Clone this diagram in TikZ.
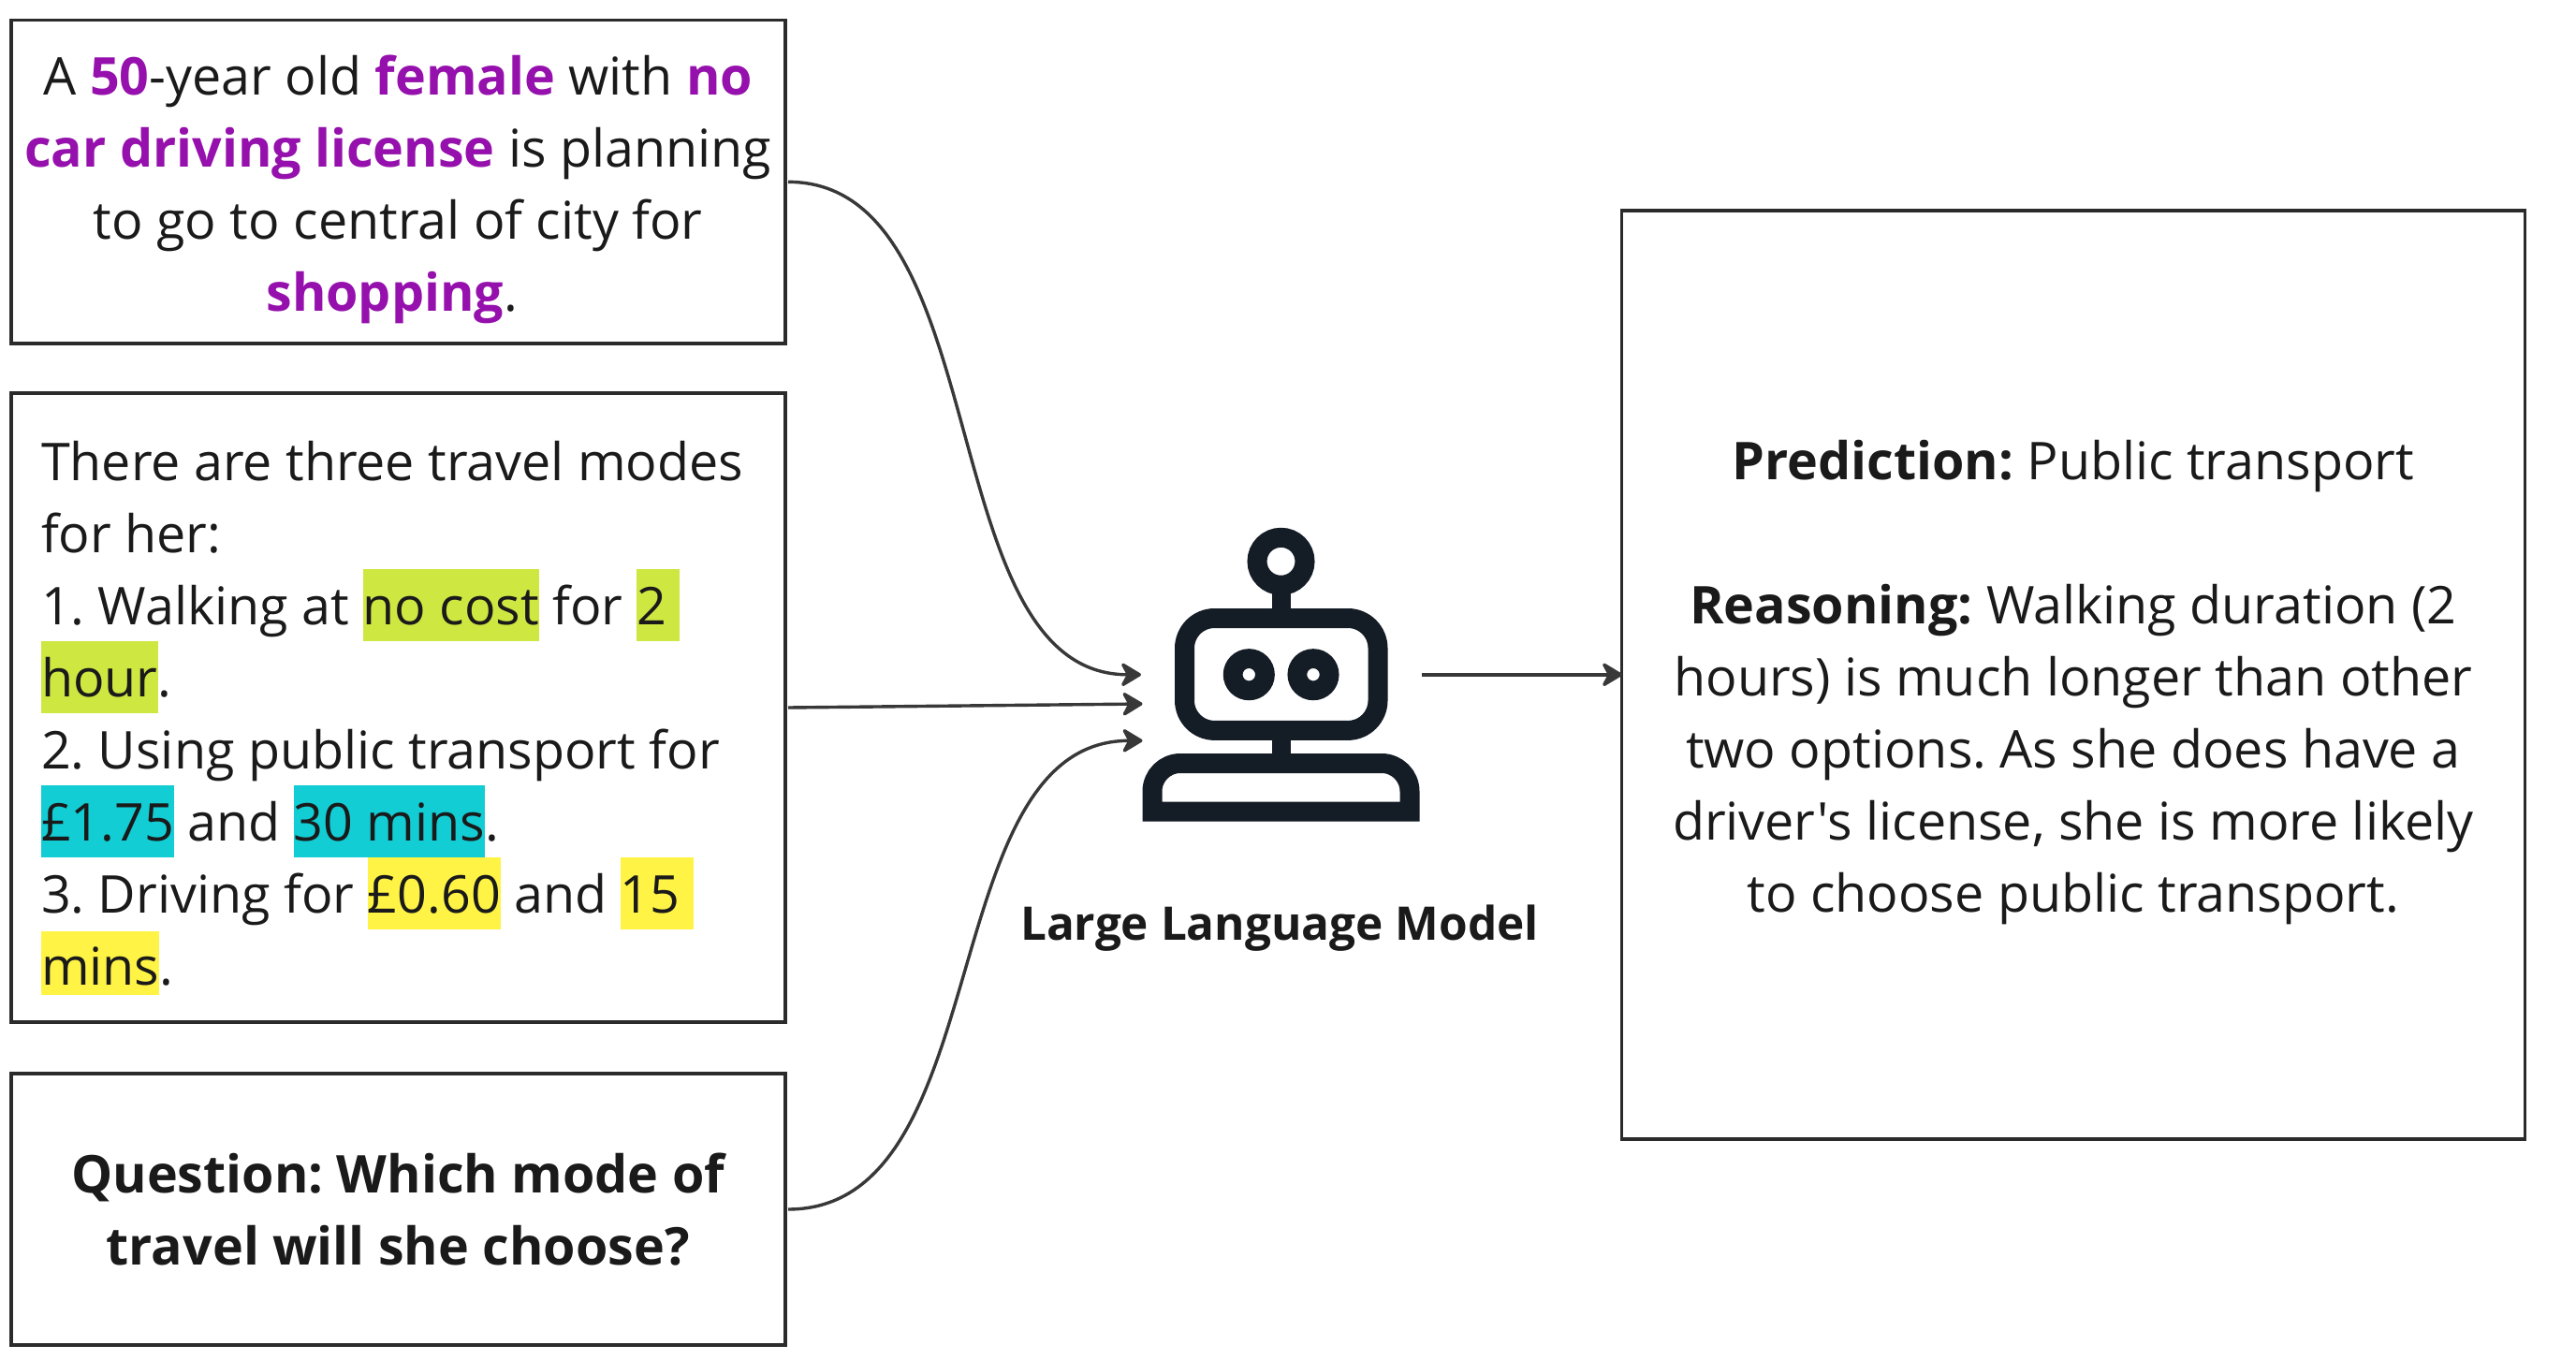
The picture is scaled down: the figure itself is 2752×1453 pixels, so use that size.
\documentclass[tikz,border=0pt]{standalone}
\usepackage{fontspec}
\setmainfont{Open Sans}[Ligatures=TeXOff]
\usetikzlibrary{arrows.meta}
\AtBeginDocument{\frenchspacing}
\definecolor{ink}{HTML}{1A1A1A}
\definecolor{edge}{HTML}{2B2B2B}
\definecolor{wire}{HTML}{383838}
\definecolor{bot}{HTML}{141C26}
\definecolor{plum}{HTML}{9510AC}
\definecolor{lime}{HTML}{CEE741}
\definecolor{teal}{HTML}{12CDD4}
\definecolor{sun}{HTML}{FFF445}
\newcommand{\hlbox}[2]{{\setlength{\fboxsep}{0pt}\colorbox{#1}{\rule[-17.2pt]{0pt}{77pt}#2}}}
\newcommand{\hlshort}[2]{{\setlength{\fboxsep}{0pt}\colorbox{#1}{\rule[-10pt]{0pt}{68pt}#2}}}
\newcommand{\pk}[1]{\textcolor{plum}{\textbf{#1}}}
\tikzset{
  x=1pt,y=-1pt,
  panel/.style={draw=edge,line width=3.4pt,fill=white,inner sep=0pt,outer sep=3pt},
  words/.style={text=ink,inner sep=0pt,font=\fontsize{55.6pt}{77pt}\selectfont},
  link/.style={draw=wire,line width=3.4pt,-{Stealth[length=25pt,width=30pt,inset=8pt,round]}},
  botline/.style={draw=bot,line width=21pt,fill=none},
  botfill/.style={fill=bot,draw=none},
}
\begin{document}
\begin{tikzpicture}
\useasboundingbox (0,0) rectangle (2752,1453);
\fill[white] (0,0) rectangle (2752,1453);
% boxes
\node[panel,minimum width=827pt,minimum height=345.5pt] (ctx) at (425.5,194.35) {};
\node[panel,minimum width=827pt,minimum height=672pt] (modes) at (425.5,756) {};
\node[panel,minimum width=827pt,minimum height=290pt] (ask) at (425.5,1292) {};
\node[panel,minimum width=965pt,minimum height=992pt] (out) at (2215,721) {};
% box texts
\node[words,text width=827pt,align=flush center] (ctxtext) at (425.25,202.6)
 {A \pk{50}-year old \pk{female} with \pk{no}\\ \pk{car driving license} is planning\\ to go to central of city for\\ \pk{shopping}.\hspace*{13pt}};
\node[words,text width=764pt,align=flush left] (modestext) at (426,767.3)
 {There are three travel modes\\ for her:\\ 1. Walking at \hlbox{lime}{no cost} for \hlbox{lime}{2 }\\ \hlbox{lime}{hour}.\\ 2. Using public transport for\\ \hlbox{teal}{£1.75} and \hlbox{teal}{30 mins}.\\ 3. Driving for \hlbox{sun}{£0.60} and \hlbox{sun}{15 }\\ \hlshort{sun}{mins}.};
\node[words,text width=827pt,align=flush center,font=\fontsize{55.6pt}{77pt}\selectfont\bfseries] (asktext) at (425.25,1292)
 {Question: Which mode of\\ travel will she choose?};
\node[words,text width=940pt,align=flush center] (outtext) at (2214.75,729.4)
 {\textbf{Prediction:} Public transport\\[77pt] \textbf{Reasoning:} Walking duration (2\\ hours) is much longer than other\\ two options. As she does have a\\ driver's license, she is more likely\\ to choose public transport.};
% robot
\node[minimum width=295.5pt,minimum height=314pt,inner sep=0pt,outer sep=2pt] (robot) at (1368.75,720.8) {};
\draw[botline] (1368.5,599.8) circle[radius=25.5];
\fill[botfill] (1359,630) rectangle (1379,652);
\draw[botline,rounded corners=32pt] (1265.5,660.5) rectangle (1472,780.4);
\fill[botfill] (1359,789) rectangle (1379,807);
\draw[botline] (1231,867.2) [rounded corners=30pt] -- (1231,815.5) -- (1506,815.5) [sharp corners] -- (1506,867.2) -- cycle;
\draw[draw=bot,line width=20.8pt] (1334.3,720.7) circle[radius=17.1];
\draw[draw=bot,line width=20.8pt] (1403,720.7) circle[radius=17.1];
% connectors
\coordinate (tipB) at (1220.5,752);
\coordinate (tipC) at (1220.5,791.3);
\coordinate (tipOut) at (1733,720.8);
\draw[link] (ctx.east) .. controls +(225,0) and +(-225,0) .. (robot.west);
\draw[link] (modes.east) -- (tipB);
\draw[link] (ask.east) .. controls +(225,0) and +(-225,0) .. (tipC);
\draw[link] (robot.east) -- (tipOut);
% label
\node[text=ink,inner sep=0pt,font=\fontsize{49.5pt}{60pt}\selectfont\bfseries,anchor=base] (cap) at (1367,1004) {Large Language Model};
\end{tikzpicture}
\end{document}
